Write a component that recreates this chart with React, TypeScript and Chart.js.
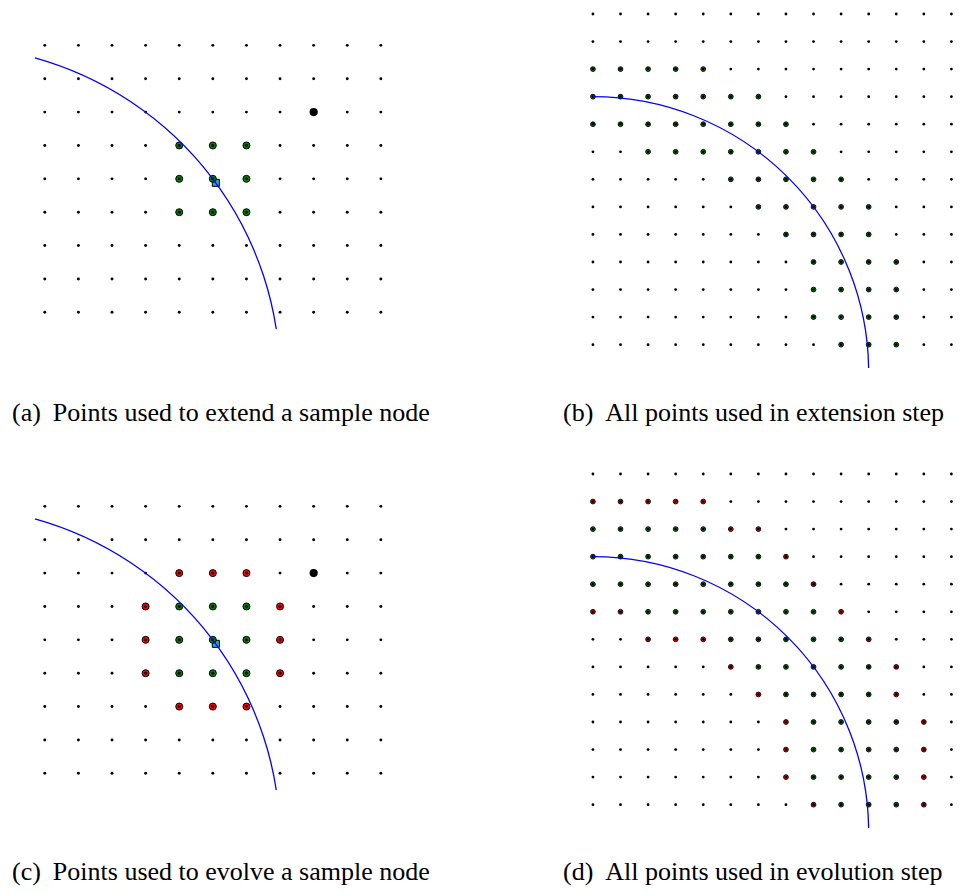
import React, { useEffect, useRef } from "react";
import { Chart, registerables } from "chart.js";

Chart.register(...registerables);

// Lattice of the close-up panels (a) and (c)
const zoomCols = [3, 4, 5, 6, 7, 8, 9, 10, 11, 12, 13];
const zoomRows = [10, 9, 8, 7, 6, 5, 4, 3, 2];

// Lattice of the overview panels (b) and (d)
const fullCols = [0, 1, 2, 3, 4, 5, 6, 7, 8, 9, 10, 11, 12, 13];
const fullRows = [13, 12, 11, 10, 9, 8, 7, 6, 5, 4, 3, 2, 1];

// Sample node sitting on the surface, and an unrelated far node
const sampleNode: [number, number][] = [[8.09, 5.88]];
const farNode: [number, number][] = [[11, 8]];

// 3x3 neighbourhood used to extend the sample node
const extendNeighbours: [number, number][] = [
  [7, 7], [8, 7], [9, 7],
  [7, 6], [8, 6], [9, 6],
  [7, 5], [8, 5], [9, 5],
];

// Outer ring added when evolving the sample node
const evolveRing: [number, number][] = [
  [7, 8], [8, 8], [9, 8],
  [6, 7], [10, 7],
  [6, 6], [10, 6],
  [6, 5], [10, 5],
  [7, 4], [8, 4], [9, 4],
];

// Extension step: lattice points used, listed per row (y, xs)
const extensionRows: [number, number[]][] = [
  [11, [0, 1, 2, 3, 4]],
  [10, [0, 1, 2, 3, 4, 5, 6]],
  [9, [0, 1, 2, 3, 4, 5, 6, 7]],
  [8, [2, 3, 4, 5, 6, 7, 8]],
  [7, [5, 6, 7, 8, 9]],
  [6, [6, 7, 8, 9, 10]],
  [5, [7, 8, 9, 10]],
  [4, [8, 9, 10, 11]],
  [3, [8, 9, 10, 11]],
  [2, [8, 9, 10, 11]],
  [1, [9, 10, 11]],
];

// Evolution step: extra points on top of the extension set, per row (y, xs)
const evolutionRows: [number, number[]][] = [
  [12, [0, 1, 2, 3, 4]],
  [11, [5, 6]],
  [10, [7]],
  [9, [8]],
  [8, [0, 1, 9]],
  [7, [2, 3, 4, 10]],
  [6, [5, 11]],
  [5, [6, 11]],
  [4, [7, 12]],
  [3, [7, 12]],
  [2, [7, 12]],
  [1, [8, 12]],
];

// Surface: circle arc around the origin
const surfaceCenter: [number, number] = [0, 0];
const surfaceRadius = 10;
const zoomArcDeg: [number, number] = [0, 74.3];
const fullArcDeg: [number, number] = [0, 90];

// Sub-figure captions
const captionLabels = ["(a)", "(b)", "(c)", "(d)"];
const captionTexts = [
  "Points used to extend a sample node",
  "All points used in extension step",
  "Points used to evolve a sample node",
  "All points used in evolution step",
];

const GREEN = "#008000";
const RED = "#ff0000";
const CYAN = "#22a8c8";
const BLUE = "#0000ff";

type Pt = [number, number];

const lattice = (cols: number[], rows: number[]) =>
  rows.flatMap((y) => cols.map((x) => ({ x, y })));
const fromRows = (rows: [number, number[]][]) =>
  rows.flatMap(([y, xs]) => xs.map((x) => ({ x, y })));
const toXY = (pts: Pt[]) => pts.map(([x, y]) => ({ x, y }));

const arcPlugin = (deg: [number, number]) => ({
  id: "surfaceArc",
  afterDatasetsDraw(chart: any) {
    const { ctx, chartArea, scales } = chart;
    const xs = scales.x;
    const ys = scales.y;
    const cx = xs.getPixelForValue(surfaceCenter[0]);
    const cy = ys.getPixelForValue(surfaceCenter[1]);
    const rx = Math.abs(xs.getPixelForValue(surfaceCenter[0] + surfaceRadius) - cx);
    const ry = Math.abs(ys.getPixelForValue(surfaceCenter[1] + surfaceRadius) - cy);
    ctx.save();
    ctx.beginPath();
    ctx.rect(chartArea.left, chartArea.top, chartArea.right - chartArea.left, chartArea.bottom - chartArea.top);
    ctx.clip();
    ctx.beginPath();
    ctx.ellipse(cx, cy, rx, ry, 0, (-deg[1] * Math.PI) / 180, (-deg[0] * Math.PI) / 180);
    ctx.strokeStyle = BLUE;
    ctx.lineWidth = 1.3;
    ctx.stroke();
    ctx.restore();
  },
});

type PanelProps = {
  left: number;
  top: number;
  width: number;
  height: number;
  xr: [number, number];
  yr: [number, number];
  datasets: any[];
  arc: [number, number];
};

function Panel({ left, top, width, height, xr, yr, datasets, arc }: PanelProps) {
  const ref = useRef<HTMLCanvasElement | null>(null);
  useEffect(() => {
    if (!ref.current) return;
    const chart = new Chart(ref.current, {
      type: "scatter",
      data: { datasets },
      options: {
        responsive: false,
        animation: false,
        events: [],
        layout: { padding: 0 },
        plugins: { legend: { display: false }, tooltip: { enabled: false } },
        scales: {
          x: { type: "linear", min: xr[0], max: xr[1], display: false },
          y: { type: "linear", min: yr[0], max: yr[1], display: false },
        },
      },
      plugins: [arcPlugin(arc)],
    });
    return () => chart.destroy();
  }, []);
  return (
    <canvas
      ref={ref}
      width={width}
      height={height}
      style={{ position: "absolute", left, top, width, height }}
    />
  );
}

const dots = (data: any[], r: number) => ({
  data,
  pointRadius: r,
  pointBackgroundColor: "#000",
  pointBorderWidth: 0,
  clip: false,
});
const marks = (data: any[], r: number, fill: string, bw: number, style = "circle") => ({
  data,
  pointRadius: r,
  pointStyle: style,
  pointBackgroundColor: fill,
  pointBorderColor: "#000",
  pointBorderWidth: bw,
  clip: false,
});

const zoomGrid = lattice(zoomCols, zoomRows);
const fullGrid = lattice(fullCols, fullRows);

const panelA = [
  dots(zoomGrid, 1.45),
  marks(toXY(extendNeighbours), 3.5, GREEN, 1),
  marks(toXY(farNode), 4.1, "#000", 0),
  marks(toXY(sampleNode), 5, CYAN, 1, "rect"),
];
const panelC = [
  dots(zoomGrid, 1.45),
  marks(toXY(evolveRing), 3.5, RED, 1),
  marks(toXY(extendNeighbours), 3.5, GREEN, 1),
  marks(toXY(farNode), 4.1, "#000", 0),
  marks(toXY(sampleNode), 5, CYAN, 1, "rect"),
];
const panelB = [
  dots(fullGrid, 1.4),
  marks(fromRows(extensionRows), 2.4, GREEN, 0.9),
];
const panelD = [
  dots(fullGrid, 1.4),
  marks(fromRows(evolutionRows), 2.4, RED, 0.9),
  marks(fromRows(extensionRows), 2.4, GREEN, 0.9),
];

const captionStyle: React.CSSProperties = {
  position: "absolute",
  fontFamily: '"Liberation Serif", "Times New Roman", serif',
  fontSize: 26,
  lineHeight: "26px",
  whiteSpace: "pre",
  color: "#000",
};

function Caption({ i, left, top }: { i: number; left: number; top: number }) {
  return (
    <div style={{ ...captionStyle, left, top }}>
      <span>{captionLabels[i]}</span>
      <span style={{ marginLeft: 12 }}>{captionTexts[i]}</span>
    </div>
  );
}

export default function App() {
  return (
    <div
      style={{
        position: "absolute",
        left: 0,
        top: 0,
        width: 960,
        height: 893,
        overflow: "hidden",
        background: "#fff",
      }}
    >
      <Panel left={22} top={23} width={382} height={312} xr={[2.5, 13.51]} yr={[1.5, 10.49]} datasets={panelA} arc={zoomArcDeg} />
      <Panel left={577} top={0} width={383} height={373} xr={[-0.4, 13.134]} yr={[0.15, 13.33]} datasets={panelB} arc={fullArcDeg} />
      <Panel left={22} top={484} width={382} height={312} xr={[2.5, 13.51]} yr={[1.5, 10.49]} datasets={panelC} arc={zoomArcDeg} />
      <Panel left={577} top={460} width={383} height={373} xr={[-0.4, 13.134]} yr={[0.15, 13.33]} datasets={panelD} arc={fullArcDeg} />
      <Caption i={0} left={12} top={400} />
      <Caption i={1} left={563} top={400} />
      <Caption i={2} left={12} top={859} />
      <Caption i={3} left={563} top={859} />
    </div>
  );
}
